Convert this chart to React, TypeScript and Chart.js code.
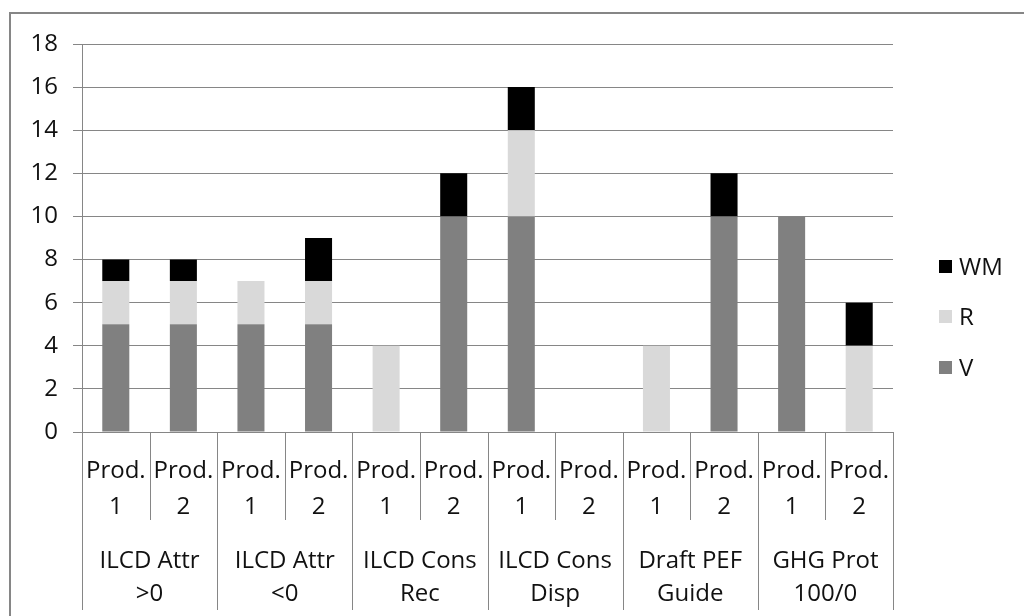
import React, { useEffect, useRef } from "react";
import { Chart, registerables } from "chart.js";

Chart.register(...registerables);

const groupLabels: string[][] = [
  ["ILCD Attr", ">0"],
  ["ILCD Attr", "<0"],
  ["ILCD Cons", "Rec"],
  ["ILCD Cons", "Disp"],
  ["Draft PEF", "Guide"],
  ["GHG Prot", "100/0"],
];
const productLabels: string[][] = [
  ["Prod.", "1"],
  ["Prod.", "2"],
];
const categories: string[][] = groupLabels.flatMap(() => productLabels);

const seriesNames = ["V", "R", "WM"];
const seriesColors = ["#808080", "#d9d9d9", "#000000"];
const valuesV = [5, 5, 5, 5, 0, 10, 10, 0, 0, 10, 10, 0];
const valuesR = [2, 2, 2, 2, 4, 0, 4, 0, 4, 0, 0, 4];
const valuesWM = [1, 1, 0, 2, 0, 2, 2, 0, 0, 2, 0, 2];
const yTicks = [0, 2, 4, 6, 8, 10, 12, 14, 16, 18];

const FONT_FAMILY = '"Open Sans", "DejaVu Sans", sans-serif';
const FONT_SIZE = 24;
const TEXT_COLOR = "#111111";
const LINE_COLOR = "#868686";

const overlayPlugin = {
  id: "overlay",
  afterDraw(chart: any) {
    const ctx = chart.ctx as CanvasRenderingContext2D;
    const xs = chart.scales.x;
    const area = chart.chartArea;
    const n = categories.length;
    ctx.save();

    // outer chart border
    ctx.strokeStyle = LINE_COLOR;
    ctx.lineWidth = 2;
    ctx.strokeRect(10, 13, 1040, 640);

    // category edges
    const edges: number[] = [];
    for (let i = 0; i <= n; i++) {
      if (i === 0) edges.push(area.left);
      else if (i === n) edges.push(area.right);
      else edges.push((xs.getPixelForTick(i - 1) + xs.getPixelForTick(i)) / 2);
    }
    ctx.lineWidth = 1;
    ctx.strokeStyle = LINE_COLOR;
    edges.forEach((e, i) => {
      const x = Math.round(e) + 0.5;
      ctx.beginPath();
      ctx.moveTo(x, area.bottom);
      ctx.lineTo(x, i % 2 === 0 ? 610 : 520);
      ctx.stroke();
    });

    ctx.fillStyle = TEXT_COLOR;
    ctx.font = `${FONT_SIZE}px ${FONT_FAMILY}`;
    ctx.textAlign = "center";
    ctx.textBaseline = "alphabetic";
    categories.forEach((lab, i) => {
      const cx = xs.getPixelForTick(i);
      ctx.fillText(lab[0], cx, 478);
      ctx.fillText(lab[1], cx, 514);
    });
    groupLabels.forEach((lab, g) => {
      const cx = (edges[2 * g] + edges[2 * g + 2]) / 2;
      ctx.fillText(lab[0], cx, 568);
      ctx.fillText(lab[1], cx, 601);
    });

    // legend (reversed order)
    const legendY = [267, 317, 368];
    ctx.textAlign = "left";
    ctx.textBaseline = "middle";
    const order = [2, 1, 0];
    order.forEach((s, k) => {
      const y = legendY[k];
      ctx.fillStyle = seriesColors[s];
      ctx.fillRect(939, y - 7, 13, 13);
      ctx.fillStyle = TEXT_COLOR;
      ctx.fillText(seriesNames[s], 959, y + 1);
    });
    ctx.restore();
  },
};

export default function App() {
  const canvasRef = useRef<HTMLCanvasElement>(null);

  useEffect(() => {
    if (!canvasRef.current) return;
    const chart = new Chart(canvasRef.current, {
      type: "bar",
      data: {
        labels: categories.map((c) => c.join(" ")),
        datasets: [
          { label: seriesNames[0], data: valuesV, backgroundColor: seriesColors[0] },
          { label: seriesNames[1], data: valuesR, backgroundColor: seriesColors[1] },
          { label: seriesNames[2], data: valuesWM, backgroundColor: seriesColors[2] },
        ],
      },
      options: {
        responsive: false,
        animation: false,
        devicePixelRatio: 1,
        layout: { padding: { left: 0, top: 44, right: 131, bottom: 0 } },
        datasets: { bar: { categoryPercentage: 1, barPercentage: 0.4 } },
        plugins: { legend: { display: false }, tooltip: { enabled: false } },
        scales: {
          x: {
            stacked: true,
            ticks: { display: false },
            grid: { display: false },
            border: { display: false },
            afterFit: (scale: any) => {
              scale.height = 184;
            },
          },
          y: {
            stacked: true,
            min: 0,
            max: 18,
            afterBuildTicks: (scale: any) => {
              scale.ticks = yTicks.map((v) => ({ value: v }));
            },
            ticks: {
              padding: 15,
              color: TEXT_COLOR,
              font: { family: FONT_FAMILY, size: FONT_SIZE },
            },
            grid: { color: LINE_COLOR, lineWidth: 1, tickLength: 9 },
            border: { display: true, color: LINE_COLOR, width: 1 },
            afterFit: (scale: any) => {
              scale.width = 82;
            },
          },
        },
      },
      plugins: [overlayPlugin],
    });
    return () => chart.destroy();
  }, []);

  return (
    <div style={{ position: "fixed", left: 0, top: 0, width: 1024, height: 616, background: "#fff" }}>
      <canvas ref={canvasRef} width={1024} height={616} style={{ display: "block" }} />
    </div>
  );
}
